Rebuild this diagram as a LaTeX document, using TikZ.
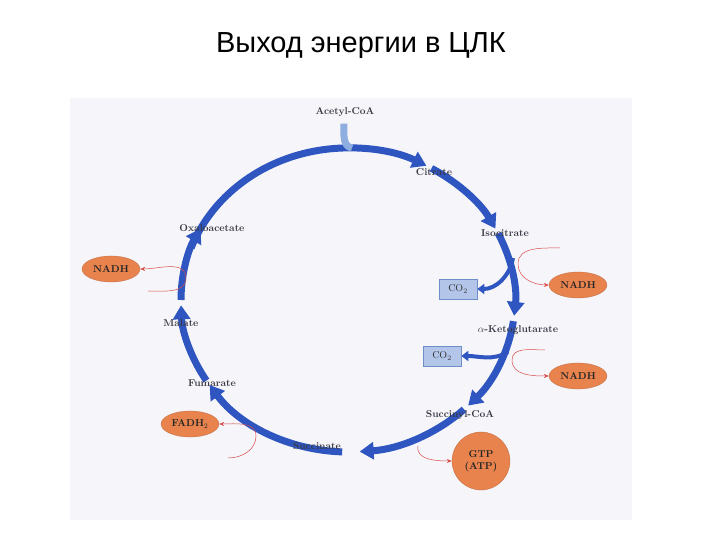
\documentclass[tikz,border=0pt]{standalone}
\usepackage{fontspec}
\setmainfont{Latin Modern Roman}
\newfontfamily\titlefont{Liberation Sans}
\usetikzlibrary{arrows.meta,shapes.geometric}
\definecolor{ringblue}{HTML}{2F56C0}
\definecolor{lightblue}{HTML}{8FAEE0}
\definecolor{boxblue}{HTML}{B3C6EA}
\definecolor{boxedge}{HTML}{6F8DC8}
\definecolor{orng}{HTML}{E8834E}
\definecolor{bg}{HTML}{F6F6FA}
\definecolor{lbl}{HTML}{3A3A46}
\definecolor{redline}{HTML}{D84A4A}
\tikzset{
 ring/.style={draw=ringblue,line width=7pt,-{Triangle[width=17pt,length=14pt]}},
 lab/.style={font=\fontsize{10}{11}\selectfont\bfseries,text=lbl,inner sep=1pt},
 prod/.style={ellipse,fill=orng,draw=orng!80!black,line width=0.3pt,minimum width=58pt,minimum height=26pt,inner sep=0pt,font=\fontsize{10}{11}\selectfont\bfseries,text=black!85},
 cobox/.style={rectangle,fill=boxblue,draw=boxedge,line width=0.6pt,minimum width=38pt,minimum height=20pt,inner sep=0pt,font=\fontsize{10}{11}\selectfont,text=black!80},
 red/.style={draw=redline,line width=0.5pt,-{Stealth[length=5pt,width=4pt]}},
 co/.style={draw=ringblue,line width=4pt,-{Triangle[width=10pt,length=7pt]}}
}
\begin{document}
\begin{tikzpicture}[x=1pt,y=1pt]
\useasboundingbox (0,0) rectangle (720,540);
\fill[bg] (70,20) rectangle (632,442);
\node[font=\titlefont\fontsize{29}{34}\selectfont] (title) at (361,494) {Выход энергии в ЦЛК};
\coordinate (c) at (348,240);
% ring segments
\draw[ring] ([shift={(160:167 and 152)}]c) arc[start angle=160,end angle=62,x radius=167,y radius=152];
\draw[ring] ([shift={(60:167 and 152)}]c) arc[start angle=60,end angle=28,x radius=167,y radius=152];
\draw[ring] ([shift={(26:167 and 152)}]c) arc[start angle=26,end angle=-6,x radius=167,y radius=152];
\draw[ring] ([shift={(-8:167 and 152)}]c) arc[start angle=-8,end angle=-44,x radius=167,y radius=152];
\draw[ring] ([shift={(-46:167 and 152)}]c) arc[start angle=-46,end angle=-86,x radius=167,y radius=152];
\draw[ring] ([shift={(-92:167 and 152)}]c) arc[start angle=-92,end angle=-146,x radius=167,y radius=152];
\draw[ring] ([shift={(-148:167 and 152)}]c) arc[start angle=-148,end angle=-178,x radius=167,y radius=152];
\draw[ring] ([shift={(-180:167 and 152)}]c) arc[start angle=180,end angle=152,x radius=167,y radius=152];
% acetyl entry
\node[lab] (acetyl) at (345,428) {Acetyl-CoA};
\coordinate (entry) at (352,392);
\draw[draw=lightblue,line width=7pt] (acetyl.south)++(-1,-6) to[out=-90,in=170] (entry);
% labels
\node[lab] (citrate) at (434,368) {Citrate};
\node[lab] (isocit) at (505,307) {Isocitrate};
\node[lab] (akg) at (518,210) {$\alpha$-Ketoglutarate};
\node[lab] (succoa) at (460,125) {Succinyl-CoA};
\node[lab] (succ) at (317,94) {Succinate};
\node[lab] (fum) at (212,157) {Fumarate};
\node[lab] (mal) at (181,217) {Malate};
\node[lab] (oxa) at (212,312) {Oxaloacetate};
% CO2
\node[cobox] (co1) at (458,251) {CO$_2$};
\node[cobox] (co2) at (442,184) {CO$_2$};
\coordinate (r1) at (513,282);
\coordinate (r2) at (508,188);
\draw[co] (r1) to[out=-100,in=0] (co1.east);
\draw[co] (r2) to[out=-150,in=0] (co2.east);
% products
\node[prod] (nadh1) at (111,271) {NADH};
\node[prod] (nadh2) at (578,255) {NADH};
\node[prod] (nadh3) at (578,164) {NADH};
\node[prod] (fadh) at (190,116) {FADH$_2$};
\node[circle,fill=orng,draw=orng!80!black,line width=0.3pt,minimum size=58pt,inner sep=0pt,align=center,font=\fontsize{10}{12}\selectfont\bfseries,text=black!85] (gtp) at (481,79) {GTP\\(ATP)};
% red arrows
\coordinate (s1) at (148,249);
\coordinate (s2) at (560,292);
\coordinate (s3) at (545,190);
\coordinate (s4) at (228,82);
\coordinate (s5) at (418,94);
\draw[red] (s1) to[out=0,in=-90] (186,262) to[out=90,in=0] (nadh1.east);
\draw[red] (s2) to[out=180,in=90] (518,276) to[out=-90,in=180] (nadh2.west);
\draw[red] (s3) to[out=180,in=90] (512,180) to[out=-90,in=180] (nadh3.west);
\draw[red] (s4) to[out=0,in=-90] (256,104) to[out=90,in=0] (fadh.east);
\draw[red] (s5) to[out=-100,in=180] (gtp.west);
\end{tikzpicture}
\end{document}
